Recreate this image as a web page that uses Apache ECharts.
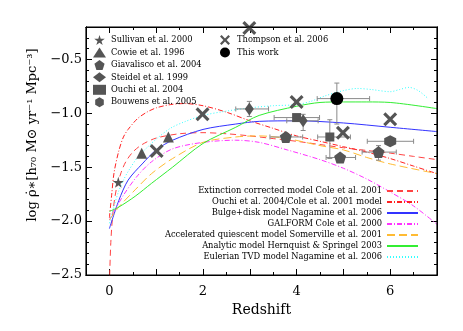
<!DOCTYPE html>
<html>
<head>
<meta charset="utf-8">
<script src="https://cdn.jsdelivr.net/npm/echarts@6/dist/echarts.min.js"></script>
<style>
html, body { margin: 0; padding: 0; background: #fff; }
#chart { width: 463px; height: 331px; }
</style>
</head>
<body>
<div id="chart"></div>
<script>
// axis ranges and ticks
const xRange = [-0.5, 7];
const yRange = [-2.5, -0.2];
const xMajorTicks = [0, 1, 2, 3, 4, 5, 6, 7];
const xMinorTicks = [0.5, 1.5, 2.5, 3.5, 4.5, 5.5, 6.5];
const xLabels = [0, 2, 4, 6];
const yMajorTicks = [-2.5, -2.0, -1.5, -1.0, -0.5];
const yMinorTicks = [-2.4, -2.3, -2.2, -2.1, -1.9, -1.8, -1.7, -1.6, -1.4, -1.3, -1.2, -1.1,
  -0.9, -0.8, -0.7, -0.6, -0.4, -0.3];

// observations: [redshift, log rho]
const sullivan = [[0.19, -1.64]];
const cowie = [[0.69, -1.37], [1.26, -1.22]];
const giavalisco = [[3.77, -1.22], [4.93, -1.41], [5.75, -1.36]];
const steidel = [[2.99, -0.96], [4.14, -1.07]];
const ouchi = [[4.0, -1.04], [4.71, -1.22]];
const bouwens = [[6.0, -1.26]];
const thompson = [[1.01, -1.35], [1.99, -1.01], [2.99, -0.21], [4.0, -0.895], [4.99, -1.18], [6.0, -1.055]];
const thisWork = [[4.86, -0.864]];

// error bars: [x, y, xLow, xHigh, yLow, yHigh]
const errorBars = [
  [2.99, -0.96, 2.7, 3.4, -1.03, -0.89],
  [4.14, -1.07, 3.79, 4.46, -1.16, -1.01],
  [4.0, -1.04, 3.52, 4.49, -1.04, -1.04],
  [4.71, -1.22, 4.45, 5.15, -1.42, -1.06],
  [3.77, -1.22, 3.43, 4.13, -1.22, -1.22],
  [4.93, -1.41, 4.63, 5.26, -1.41, -1.41],
  [5.75, -1.36, 5.4, 6.13, -1.435, -1.3],
  [6.0, -1.26, 5.51, 6.5, -1.26, -1.26],
  [4.86, -0.864, 4.44, 5.56, -1.1, -0.72]
];

// model curves: [redshift, log rho]
const coleExt = [[0, -2.6], [0.03, -2.2], [0.08, -1.9], [0.15, -1.7], [0.25, -1.55], [0.35, -1.45],
  [0.5, -1.36], [0.7, -1.29], [1.0, -1.23], [1.5, -1.19], [2, -1.18], [2.5, -1.19], [3, -1.21],
  [3.5, -1.235], [4, -1.26], [4.5, -1.29], [5, -1.32], [5.5, -1.345], [6, -1.37], [6.5, -1.4], [7, -1.43]];
const ouchiCole = [[0, -1.97], [0.05, -1.75], [0.1, -1.55], [0.2, -1.35], [0.3, -1.22], [0.4, -1.15],
  [0.6, -1.05], [0.8, -0.99], [1.0, -0.95], [1.3, -0.92], [1.6, -0.91], [2, -0.93], [2.5, -0.99],
  [3, -1.07], [3.5, -1.14], [4, -1.21], [4.5, -1.26], [5, -1.31], [5.5, -1.36], [6, -1.42], [6.5, -1.49], [7, -1.56]];
const bulgeDisk = [[0, -2.07], [0.2, -1.81], [0.4, -1.62], [0.7, -1.47], [1.0, -1.34], [1.35, -1.25],
  [2, -1.15], [2.7, -1.1], [3.2, -1.075], [4, -1.07], [5, -1.09], [6, -1.13], [7, -1.17]];
const galform = [[0, -1.99], [0.3, -1.76], [0.6, -1.58], [0.9, -1.45], [1.35, -1.33], [2, -1.27],
  [2.7, -1.25], [3.2, -1.27], [3.8, -1.34], [4.5, -1.43], [5, -1.51], [5.5, -1.61], [6, -1.73],
  [6.5, -1.86], [7, -2.03]];
const somerville = [[0, -1.99], [0.2, -1.87], [0.55, -1.71], [0.9, -1.56], [1.35, -1.42], [2, -1.27],
  [2.7, -1.22], [3.2, -1.21], [3.8, -1.235], [4.5, -1.3], [5, -1.34], [5.5, -1.41], [6, -1.47], [7, -1.56]];
const hernquist = [[0, -1.91], [0.2, -1.87], [0.55, -1.77], [0.9, -1.65], [1.35, -1.5], [2, -1.28],
  [2.7, -1.13], [3.2, -1.02], [4, -0.935], [4.5, -0.9], [5, -0.895], [5.5, -0.895], [6, -0.9], [7, -0.957]];
const eulerian = [[0, -2.02], [0.1, -1.86], [0.2, -1.72], [0.3, -1.62], [0.4, -1.54], [0.6, -1.41],
  [0.8, -1.32], [1, -1.24], [1.3, -1.14], [1.6, -1.08], [2, -1.02], [2.5, -0.98], [3, -0.95], [3.5, -0.93],
  [4, -0.92], [4.3, -0.89], [4.6, -0.84], [5, -0.79], [5.3, -0.77], [5.6, -0.78], [6, -0.8], [6.2, -0.78],
  [6.4, -0.76], [6.6, -0.79], [6.8, -0.86]];

// plot frame: corners of the axis ranges, walked round in order
const frame = [[xRange[0], yRange[1]], [xRange[1], yRange[1]], [xRange[1], yRange[0]],
  [xRange[0], yRange[0]], [xRange[0], yRange[1]]];

const GREY = '#555555';
const SERIF = 'DejaVu Serif';
const LEG_FONT = 'DejaVu Serif';

const STAR = 'path://M50,0 L61,35 L98,35 L68,57 L79,91 L50,70 L21,91 L32,57 L2,35 L39,35 Z';
const PENTAGON = 'path://M50,0 L98,36 L79,94 L21,94 L2,36 Z';
const HEXAGON = 'path://M50,0 L93,25 L93,75 L50,100 L7,75 L7,25 Z';
const CROSS = 'path://M0,16 L16,0 L50,34 L84,0 L100,16 L66,50 L100,84 L84,100 L50,66 L16,100 L0,84 L34,50 Z';

const chart = echarts.init(document.getElementById('chart'));

const fmtMinus = v => String(v).replace('-', '\u2212');

function xAxisCfg(pos, ticks, len, labels) {
  return {
    type: 'value', position: pos, min: xRange[0], max: xRange[1], gridIndex: 0,
    axisLine: { show: true, onZero: false, lineStyle: { color: '#000', width: 1 } },
    splitLine: { show: false },
    axisTick: { show: true, inside: true, length: len, customValues: ticks, lineStyle: { color: '#000' } },
    axisLabel: labels ? {
      show: true, customValues: labels, color: '#000', fontFamily: SERIF, fontSize: 13, margin: 10
    } : { show: false }
  };
}
function yAxisCfg(pos, ticks, len, labels) {
  return {
    type: 'value', position: pos, min: yRange[0], max: yRange[1], gridIndex: 0,
    axisLine: { show: true, onZero: false, lineStyle: { color: '#000', width: 1 } },
    splitLine: { show: false },
    axisTick: { show: true, inside: true, length: len, customValues: ticks, lineStyle: { color: '#000' } },
    axisLabel: labels ? {
      show: true, customValues: labels, color: '#000', fontFamily: SERIF, fontSize: 13, margin: 4,
      formatter: v => fmtMinus(v.toFixed(1))
    } : { show: false }
  };
}

const xMain = xAxisCfg('bottom', xMajorTicks, 6, xLabels);
xMain.name = 'Redshift';
xMain.nameLocation = 'middle';
xMain.nameGap = 27;
xMain.nameTextStyle = { fontFamily: SERIF, fontSize: 14, fontWeight: 'normal', color: '#000' };

const yMain = yAxisCfg('left', yMajorTicks, 6, yMajorTicks);
yMain.name = 'log \u03C1\u0307\u2217[h\u2087\u2080 M\u2299 yr\u207B\u00B9 Mpc\u207B\u00B3]';
yMain.nameLocation = 'middle';
yMain.nameGap = 41;
yMain.nameRotate = 90;
yMain.nameTextStyle = { fontFamily: SERIF, fontSize: 13, color: '#000', padding: [0, 0, 0, 32] };

function scatter(name, data, symbol, size, color) {
  return {
    name, type: 'scatter', data, symbol, symbolSize: size, clip: false, z: 5,
    itemStyle: { color: color || GREY, opacity: 1 }
  };
}
function model(name, data, color, type, width) {
  return {
    name, type: 'line', data, symbol: 'none', smooth: 0.3, clip: true, z: 3,
    lineStyle: { color, type, width: width || 1 },
    itemStyle: { color }
  };
}

chart.setOption({
  animation: false,
  backgroundColor: '#fff',
  grid: { left: 86, right: 26, top: 27, bottom: 56 },
  xAxis: [
    xMain,
    xAxisCfg('bottom', xMinorTicks, 3, null),
    xAxisCfg('top', xMajorTicks, 6, null),
    xAxisCfg('top', xMinorTicks, 3, null)
  ],
  yAxis: [
    yMain,
    yAxisCfg('left', yMinorTicks, 3, null),
    yAxisCfg('right', yMajorTicks, 6, null),
    yAxisCfg('right', yMinorTicks, 3, null)
  ],
  legend: [
    {
      orient: 'vertical', left: 88, top: 30, itemWidth: 13, itemHeight: 10, itemGap: 2.45,
      textStyle: { fontFamily: LEG_FONT, fontSize: 8.3, color: '#000', lineHeight: 10 },
      data: ['Sullivan et al. 2000', 'Cowie et al. 1996', 'Giavalisco et al. 2004',
        'Steidel et al. 1999', 'Ouchi et al. 2004', 'Bouwens et al. 2005']
    },
    {
      orient: 'vertical', left: 215, top: 30, itemWidth: 14, itemHeight: 10, itemGap: 2.45,
      textStyle: { fontFamily: LEG_FONT, fontSize: 8.3, color: '#000', lineHeight: 10 },
      data: ['Thompson et al. 2006', 'This work']
    },
    {
      orient: 'vertical', right: 39, top: 182, align: 'right', itemWidth: 31, itemHeight: 8, itemGap: 3,
      itemStyle: { opacity: 0 },
      textStyle: { fontFamily: LEG_FONT, fontSize: 8.3, color: '#000', lineHeight: 8 },
      data: ['Extinction corrected model Cole et al. 2001', 'Ouchi et al. 2004/Cole et al. 2001 model',
        'Bulge+disk model Nagamine et al. 2006', 'GALFORM Cole et al. 2000',
        'Accelerated quiescent model Somerville et al. 2001', 'Analytic model Hernquist & Springel 2003',
        'Eulerian TVD model Nagamine et al. 2006']
    }
  ],
  series: [
    {
      type: 'line', data: frame, symbol: 'none', clip: false, silent: true, z: 10,
      lineStyle: { color: '#000', width: 1.2 }
    },
    model('Extinction corrected model Cole et al. 2001', coleExt, '#ff4444', [6, 4]),
    model('Ouchi et al. 2004/Cole et al. 2001 model', ouchiCole, '#ff2222', [5, 2, 1, 2]),
    model('Bulge+disk model Nagamine et al. 2006', bulgeDisk, '#3333ff', 'solid'),
    model('GALFORM Cole et al. 2000', galform, '#ff33ff', [5, 2, 1, 2]),
    model('Accelerated quiescent model Somerville et al. 2001', somerville, '#ffbb33', [8, 4]),
    model('Analytic model Hernquist & Springel 2003', hernquist, '#33ee33', 'solid'),
    model('Eulerian TVD model Nagamine et al. 2006', eulerian, '#33ffff', [1, 2]),
    {
      type: 'custom', data: errorBars, z: 4, clip: false,
      renderItem: (params, api) => {
        const y = api.value(1);
        const x = api.value(0);
        const st = { stroke: '#8a8a8a', lineWidth: 1 };
        const kids = [];
        const seg = (a, b) => kids.push({ type: 'line', shape: { x1: a[0], y1: a[1], x2: b[0], y2: b[1] }, style: st });
        if (api.value(2) !== api.value(3)) {
          const a = api.coord([api.value(2), y]), b = api.coord([api.value(3), y]);
          seg(a, b);
          seg([a[0], a[1] - 2.5], [a[0], a[1] + 2.5]);
          seg([b[0], b[1] - 2.5], [b[0], b[1] + 2.5]);
        }
        if (api.value(4) !== api.value(5)) {
          const a = api.coord([x, api.value(4)]), b = api.coord([x, api.value(5)]);
          seg(a, b);
          seg([a[0] - 2.5, a[1]], [a[0] + 2.5, a[1]]);
          seg([b[0] - 2.5, b[1]], [b[0] + 2.5, b[1]]);
        }
        return { type: 'group', children: kids };
      }
    },
    scatter('Sullivan et al. 2000', sullivan, STAR, 11),
    scatter('Cowie et al. 1996', cowie, 'triangle', 11),
    scatter('Giavalisco et al. 2004', giavalisco, PENTAGON, 12),
    scatter('Steidel et al. 1999', steidel, 'diamond', [9, 13]),
    scatter('Ouchi et al. 2004', ouchi, 'rect', 9),
    scatter('Bouwens et al. 2005', bouwens, HEXAGON, 12),
    scatter('Thompson et al. 2006', thompson, CROSS, 14),
    scatter('This work', thisWork, 'circle', 13, '#000')
  ]
});
</script>
</body>
</html>
